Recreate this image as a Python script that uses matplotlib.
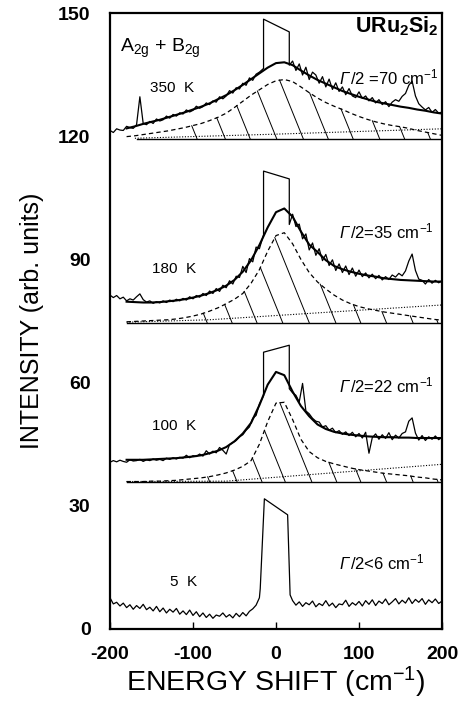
import numpy as np
import matplotlib
matplotlib.use("Agg")
import matplotlib.pyplot as plt

plt.rcParams['font.family'] = ['Liberation Sans', 'DejaVu Sans']
plt.rcParams['mathtext.fontset'] = 'custom'
plt.rcParams['mathtext.rm'] = 'Liberation Sans'
plt.rcParams['mathtext.it'] = 'Liberation Sans:italic'
plt.rcParams['mathtext.bf'] = 'Liberation Sans:bold'
plt.rcParams['axes.unicode_minus'] = False

# sample positions (cm^-1)
left_x = np.arange(-200, -19, 4)
right_x = np.arange(20, 201, 4)
fit_x = np.arange(-180, 201, 10)

# ---- 350 K ----
d350_left = [121.4, 120.9, 121.8, 121.5, 121.4, 122.4, 122.1, 121.9, 122.8, 129.6,
             123.1, 122.8, 123.6, 123.1, 124.2, 123.7, 124.0, 124.9, 124.4, 125.3,
             124.9, 125.7, 125.4, 126.4, 125.9, 126.3, 127.3, 126.8, 127.2, 128.1,
             127.7, 128.6, 128.3, 129.6, 129.1, 129.8, 131.1, 130.5, 131.8, 131.5,
             132.9, 132.4, 134.2, 133.6, 135.1, 135.6]
d350_right = [138.3, 136.0, 137.6, 134.9, 136.8, 133.8, 135.6, 134.9, 132.9, 134.5,
              132.0, 133.9, 131.4, 133.0, 130.9, 132.0, 130.1, 131.6, 129.8, 129.4,
              130.8, 129.2, 129.8, 128.6, 129.4, 128.1, 128.9, 127.7, 128.4, 127.2,
              128.3, 128.9, 128.5, 129.7, 130.4, 132.4, 133.4, 129.8, 127.9, 127.1,
              126.4, 127.0, 125.8, 126.5, 125.6, 125.9]
box350_x = [-15, -15, 16, 16]
box350_y = [136.5, 148.5, 145.4, 137.3]
fit350 = [121.9, 122.4, 123.0, 123.5, 124.0, 124.6, 125.2, 125.8, 126.5, 127.2,
          128.0, 129.0, 130.0, 131.2, 132.5, 133.9, 135.3, 136.7, 137.8, 138.0,
          137.3, 136.0, 134.8, 133.7, 132.8, 131.9, 131.0, 130.3, 129.6, 129.0,
          128.4, 128.0, 127.6, 127.2, 126.9, 126.5, 126.2, 125.8, 125.5]
lor350 = [119.9, 120.1, 120.4, 120.7, 121.0, 121.3, 121.7, 122.1, 122.6, 123.1,
          123.8, 124.6, 125.6, 127.0, 128.5, 130.0, 131.3, 132.6, 133.5, 133.8,
          133.3, 132.0, 130.6, 129.3, 128.2, 127.3, 126.5, 125.6, 124.8, 124.1,
          123.5, 123.0, 122.6, 122.3, 121.9, 121.4, 121.0, 120.6, 120.2]
bg350_x = [-170, 0, 200]
bg350 = [119.5, 120.5, 121.8]
base350 = 119.3
base350_start = -168
hatch350 = [-95, -61, -31, 1, 33, 63, 93, 125, 155, 186]

# ---- 180 K ----
d180_left = [81.3, 80.7, 81.2, 80.4, 80.8, 79.9, 80.4, 80.1, 80.9, 81.6,
             80.2, 79.6, 79.9, 79.3, 79.7, 79.4, 79.9, 79.5, 80.1, 79.7,
             80.3, 79.9, 80.5, 80.1, 80.9, 80.4, 81.2, 80.8, 81.7, 81.2,
             82.3, 81.7, 82.9, 82.2, 83.7, 83.1, 84.8, 84.0, 85.9, 85.6,
             88.3, 86.8, 90.2, 89.4, 93.0, 92.6]
d180_right = [101.0, 98.0, 98.6, 95.0, 96.2, 92.3, 94.0, 91.0, 92.6, 89.7,
              91.2, 88.5, 89.9, 87.3, 88.9, 86.8, 88.4, 86.3, 87.9, 85.9,
              87.4, 85.8, 86.7, 85.5, 86.4, 85.3, 86.1, 85.0, 85.8, 85.1,
              86.2, 85.7, 86.6, 86.0, 87.2, 89.6, 91.3, 87.3, 85.2, 84.9,
              84.0, 85.1, 84.2, 84.9, 84.3, 84.8]
box180_x = [-15, -15, 16, 16]
box180_y = [96.0, 111.5, 109.6, 98.5]
fit180 = [79.7, 79.6, 79.5, 79.5, 79.6, 79.8, 80.0, 80.3, 80.7, 81.2,
          81.8, 82.6, 83.6, 85.0, 87.0, 89.8, 93.5, 97.8, 101.5, 102.4,
          100.4, 96.8, 93.6, 91.8, 89.8, 88.4, 87.6, 87.0, 86.5, 86.1,
          85.8, 85.4, 85.2, 85.0, 84.9, 84.8, 84.7, 84.6, 84.6]
lor180 = [74.8, 74.9, 75.0, 75.1, 75.2, 75.3, 75.5, 75.8, 76.2, 76.7,
          77.4, 78.2, 79.2, 80.3, 81.7, 84.2, 87.5, 92.0, 95.8, 96.5,
          93.8, 90.0, 86.8, 84.5, 82.8, 81.3, 80.1, 79.2, 78.5, 78.0,
          77.6, 77.2, 76.9, 76.6, 76.3, 76.0, 75.7, 75.4, 75.2]
bg180_x = [-180, -80, 200]
bg180 = [74.7, 75.3, 78.9]
base180 = 74.6
base180_start = -180
hatch180 = [-83, -53, -23, 8, 40, 72, 102, 133, 165, 195]

# ---- 100 K ----
d100_left = [40.6, 41.0, 40.7, 41.1, 40.8, 40.6, 41.2, 40.9, 41.0, 41.3,
             40.8, 41.2, 41.0, 41.4, 41.1, 41.3, 41.0, 41.6, 41.3, 41.7,
             41.4, 41.8, 41.6, 42.3, 41.7, 42.2, 42.0, 42.6, 42.1, 43.4,
             42.6, 43.3, 42.9, 44.2, 43.5, 42.6, 44.9, 45.4, 45.9, 46.8,
             47.3, 48.4, 49.2, 51.3, 52.0, 54.8]
d100_right = [57.5, 56.9, 55.3, 59.8, 53.1, 52.4, 51.3, 50.6, 50.4, 49.2,
              49.5, 48.4, 48.9, 47.8, 48.3, 47.4, 48.0, 47.1, 47.9, 46.8,
              47.6, 46.5, 47.9, 42.8, 46.6, 47.5, 46.2, 47.3, 46.4, 47.8,
              46.1, 47.2, 46.5, 47.6, 48.0, 50.6, 51.4, 47.7, 46.0, 47.1,
              45.9, 46.8, 46.2, 47.0, 46.1, 46.7]
box100_x = [-15, -15, 16, 16]
box100_y = [56.8, 67.4, 69.1, 58.5]
fit100 = [41.2, 41.2, 41.2, 41.3, 41.4, 41.5, 41.6, 41.8, 42.0, 42.3,
          42.8, 43.4, 44.3, 45.7, 47.6, 50.2, 54.5, 59.5, 62.6, 61.8,
          57.8, 54.3, 51.8, 49.8, 48.7, 48.0, 47.6, 47.3, 47.1, 46.9,
          46.8, 46.7, 46.7, 46.6, 46.6, 46.5, 46.5, 46.5, 46.5]
lor100 = [35.9, 35.9, 35.9, 36.0, 36.0, 36.1, 36.2, 36.4, 36.6, 36.8,
          37.1, 37.5, 38.0, 38.7, 39.6, 41.0, 45.0, 50.5, 55.0, 55.2,
          51.0, 46.2, 43.2, 41.7, 40.8, 40.2, 39.7, 39.2, 38.8, 38.5,
          38.2, 37.9, 37.7, 37.5, 37.3, 37.0, 36.8, 36.5, 36.3]
bg100_x = [-180, -60, 200]
bg100 = [35.9, 36.0, 40.1]
base100 = 35.9
base100_start = -180
hatch100 = [-80, -47, -17, 11, 43, 73, 102, 133, 165, 195]

# ---- 5 K ----
d5_left = [7.6, 6.1, 6.5, 5.6, 6.3, 5.2, 5.9, 4.8, 5.7, 5.0,
           6.0, 4.7, 5.3, 4.4, 5.5, 4.2, 5.1, 3.9, 4.8, 4.1,
           5.0, 3.6, 4.4, 3.5, 4.6, 3.3, 4.2, 3.0, 3.9, 2.8,
           3.6, 2.6, 3.4, 3.1, 3.9, 2.9, 3.5, 2.7, 3.8, 3.0,
           4.0, 3.2, 4.3, 4.9, 5.8, 7.6]
d5_right = [6.9, 5.8, 6.6, 5.5, 6.4, 5.9, 6.8, 5.4, 6.2, 5.7,
            6.9, 5.6, 6.3, 5.2, 6.1, 5.9, 7.0, 5.5, 6.4, 5.8,
            6.7, 5.6, 6.9, 6.0, 7.1, 5.7, 6.8, 6.2, 7.3, 5.9,
            6.6, 7.4, 6.1, 7.0, 6.3, 7.6, 6.2, 7.2, 6.5, 7.4,
            6.0, 7.1, 6.4, 7.3, 6.2, 6.8]
box5_x = [-19, -14, 14, 17]
box5_y = [9.8, 31.7, 27.8, 8.3]

temps = ["350  K", "180  K", "100  K", "5  K"]
temp_pos = [(-152, 131.7), (-149, 87.7), (-149, 49.4), (-128, 11.5)]
widths = ["/2 =70 cm$^{-1}$", "/2=35 cm$^{-1}$",
          "/2=22 cm$^{-1}$", "/2<6 cm$^{-1}$"]
width_pos = [(77, 132.6), (77, 95.1), (77, 57.6), (77, 14.5)]


fig = plt.figure(figsize=(4.61, 7.03), dpi=100)
ax = fig.add_axes([0.2386, 0.1053, 0.7202, 0.8762])


def spectrum(left, bx, by, right):
    x = np.concatenate([left_x, bx, right_x])
    y = np.concatenate([left, by, right])
    ax.plot(x, y, color='k', lw=0.9)


def fitted(fit, lor, bgx, bg, base, start, hatch, k=0.5):
    ax.plot(fit_x, fit, color='k', lw=1.5)
    ax.plot(fit_x, lor, color='k', lw=0.9, linestyle=(0, (3.5, 2.5)))
    ax.plot(bgx, bg, color='k', lw=0.8, linestyle=(0, (1, 1.5)))
    ax.plot([start, 200], [base, base], color='k', lw=1.0)
    # hatch lines under the Lorentzian, drawn as parallel sloping strokes
    for x0 in hatch:
        xx = np.linspace(x0, x0 - 120, 1200)
        ly = base + k * (x0 - xx)
        cy = np.interp(xx, fit_x, lor)
        i = np.argmax(ly >= cy)
        ax.plot([x0, xx[i]], [base, ly[i]], color='k', lw=0.7)


spectrum(d350_left, box350_x, box350_y, d350_right)
fitted(fit350, lor350, bg350_x, bg350, base350, base350_start, hatch350)
spectrum(d180_left, box180_x, box180_y, d180_right)
fitted(fit180, lor180, bg180_x, bg180, base180, base180_start, hatch180)
spectrum(d100_left, box100_x, box100_y, d100_right)
fitted(fit100, lor100, bg100_x, bg100, base100, base100_start, hatch100)
spectrum(d5_left, box5_x, box5_y, d5_right)

for t, (tx, ty) in zip(temps, temp_pos):
    ax.text(tx, ty, t, fontsize=11, ha='left', va='center')
for t, (tx, ty) in zip(widths, width_pos):
    # italic Gamma, then the rest of the label on the same baseline
    ax.text(tx, ty, "Γ", fontsize=12, style='italic', ha='left', va='baseline')
    ax.annotate(t, xy=(tx, ty), xytext=(7.5, 0), textcoords='offset points',
                fontsize=12, ha='left', va='baseline')

ax.text(-188, 141.5, r"A$_{\mathrm{2g}}$ + B$_{\mathrm{2g}}$", fontsize=14,
        ha='left', va='center')
ax.text(196, 146.8, r"URu$_{\mathbf{2}}$Si$_{\mathbf{2}}$", fontsize=15.5,
        fontweight='bold', ha='right', va='center')

ax.set_xlim(-200, 200)
ax.set_ylim(0, 150)
ax.set_xticks([-200, -100, 0, 100, 200])
ax.set_yticks([0, 30, 60, 90, 120, 150])
ax.tick_params(axis='both', direction='in', length=5, width=1.0,
               labelsize=14, pad=12)
ax.tick_params(axis='y', length=0, pad=14)
for lab in ax.get_xticklabels() + ax.get_yticklabels():
    lab.set_fontweight('bold')
for s in ax.spines.values():
    s.set_linewidth(1.6)

ax.set_xlabel("ENERGY SHIFT (cm$^{-1}$)", fontsize=20.5)
ax.set_ylabel("INTENSITY (arb. units)", fontsize=18)
ax.xaxis.set_label_coords(0.5, -0.058)
ax.yaxis.set_label_coords(-0.2, 0.5)

fig.savefig("out.png", dpi=100)
